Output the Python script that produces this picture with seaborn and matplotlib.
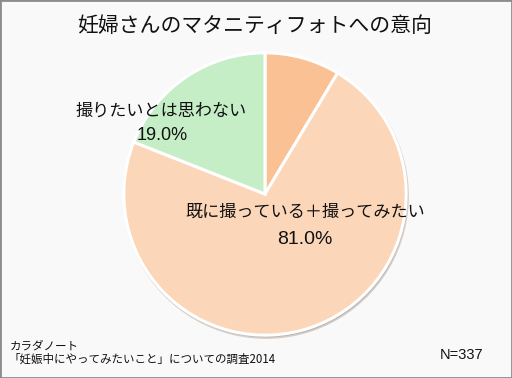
import matplotlib.pyplot as plt
import seaborn as sns

# données
labels = ['既に撮っている', '撮ってみたい', '撮りたいとは思わない']
values = [8.6, 72.4, 19.0]
colors = ['#F9C194', '#FBD6B8', '#C5EEC6']
title = '妊婦さんのマタニティフォトへの意向'
label_yes = '既に撮っている＋撮ってみたい'
label_no = '撮りたいとは思わない'
pct_yes = '81.0%'
pct_no = '19.0%'
source = ['カラダノート', '「妊娠中にやってみたいこと」についての調査2014']
n_text = 'N=337'

sns.set_theme(style='white')
plt.rcParams['font.family'] = ['Noto Sans CJK JP', 'DejaVu Sans']

W, H = 512, 378
fig = plt.figure(figsize=(W / 100, H / 100), dpi=100, facecolor='#F9F9F9')


def px(x, y):
    return x / W, 1 - y / H


# pie centre (265, 194), radius 144 px
cx, cy, r = 265, 194, 144
ax = fig.add_axes([(cx - r) / W, (H - cy - r) / H, 2 * r / W, 2 * r / H])
ax.pie(values, colors=colors, startangle=90, counterclock=False, radius=1,
       wedgeprops={'edgecolor': 'white', 'linewidth': 2.2},
       shadow={'ox': 0.006, 'oy': -0.011, 'shade': 0.5, 'alpha': 0.3})
ax.set_xlim(-1.02, 1.02)
ax.set_ylim(-1.02, 1.02)
ax.set_facecolor('none')
ax.axis('off')

num_font = ['Liberation Sans', 'DejaVu Sans']
fig.text(*px(255, 26), title, fontsize=15, ha='center', va='center', color='#111111')
fig.text(*px(161, 111), label_no, fontsize=12.3, ha='center', va='center', color='#111111')
fig.text(*px(162, 135), pct_no, fontsize=13, ha='center', va='center', color='#111111',
         family=num_font)
fig.text(*px(305, 212), label_yes, fontsize=12.3, ha='center', va='center', color='#111111')
fig.text(*px(305, 240), pct_yes, fontsize=14, ha='center', va='center', color='#111111',
         family=num_font)
fig.text(*px(10, 346), source[0], fontsize=8.3, ha='left', va='center', color='#111111')
fig.text(*px(8, 359), source[1], fontsize=8.3, ha='left', va='center', color='#111111')
fig.text(*px(462, 355), n_text, fontsize=10.5, ha='center', va='center', color='#111111',
         family=num_font)

# cadre
frame = plt.Rectangle((0, 0), 1, 1, transform=fig.transFigure, fill=False,
                      edgecolor='#8C8C8C', linewidth=2)
fig.add_artist(frame)

fig.savefig('out.png', dpi=100, facecolor=fig.get_facecolor())
